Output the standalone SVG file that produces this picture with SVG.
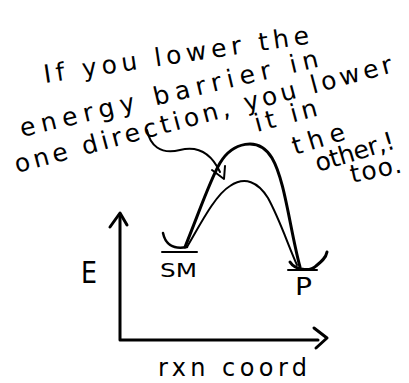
<svg xmlns="http://www.w3.org/2000/svg" width="409" height="383" viewBox="0 0 409 383">
<style>
.t{font-family:"DejaVu Sans","Liberation Sans",sans-serif;fill:#000;}
.s{fill:none;stroke:#000;stroke-linecap:round;stroke-linejoin:round;}
</style>
<rect width="409" height="383" fill="#fff"/>
<g id="note" class="t" font-size="25">
<text x="45" y="83" transform="rotate(-8.5 45 83)" textLength="268" lengthAdjust="spacing">If you lower the</text>
<text x="22" y="137" transform="rotate(-13.3 22 137)" textLength="306" lengthAdjust="spacing">energy barrier in</text>
<text x="17" y="173" transform="rotate(-15 17 173)" textLength="390" lengthAdjust="spacing">one direction, you lower</text>
<text x="257" y="132" transform="rotate(-15 257 132)" textLength="64" lengthAdjust="spacing">it in</text>
<text x="295" y="155" transform="rotate(-17 295 155)" textLength="54" lengthAdjust="spacing">the</text>
<text x="318" y="172" transform="rotate(-17 318 172)" textLength="82" lengthAdjust="spacing">other,!</text>
<text x="352" y="183" transform="rotate(-12 352 183)" textLength="52" lengthAdjust="spacing">too.</text>
</g>
<g id="SM">
<path class="s" stroke-width="2.5" d="M163,233 C165,243 172,250 187,247"/>
<path class="s" stroke-width="2" d="M162,252 L197,252"/>
<text class="t" x="160" y="277" font-size="20" textLength="37" lengthAdjust="spacingAndGlyphs">SM</text>
</g>
<g id="P">
<path class="s" stroke-width="3" d="M290,262 C295,270 310,272 316,266 C321,262 326,258 327,252"/>
<path class="s" stroke-width="2" d="M288,270 L317,270"/>
<text class="t" x="295" y="295" font-size="24" textLength="17" lengthAdjust="spacingAndGlyphs">P</text>
</g>
<g id="E-label">
<text class="t" x="81" y="283" font-size="30" textLength="16" lengthAdjust="spacingAndGlyphs">E</text>
</g>
<g id="x-label">
<text class="t" x="158" y="376" font-size="24" textLength="149" lengthAdjust="spacing">rxn coord</text>
</g>
<g id="connectors">
<path class="s" stroke-width="3" d="M185,247 C200,210 210,180 220,163 C232,143 258,135 272,158 C285,180 290,230 300,267"/>
<path class="s" stroke-width="2" d="M187,247 C200,225 215,195 230,186 C245,176 258,182 268,198 C280,220 288,245 297,265"/>
<path class="s" stroke-width="2" d="M147,130 C150,145 160,155 180,150 C200,145 212,155 220,172"/>
<path class="s" stroke-width="2" d="M212,170 L224,179 L225,166"/>
<path class="s" stroke-width="3" d="M120,215 L120,340 L318,340"/>
<path class="s" stroke-width="3" d="M110,227 L120,213 L127,225"/>
<path class="s" stroke-width="3" d="M314,328 L327,338 L316,348"/>
</g>
</svg>
